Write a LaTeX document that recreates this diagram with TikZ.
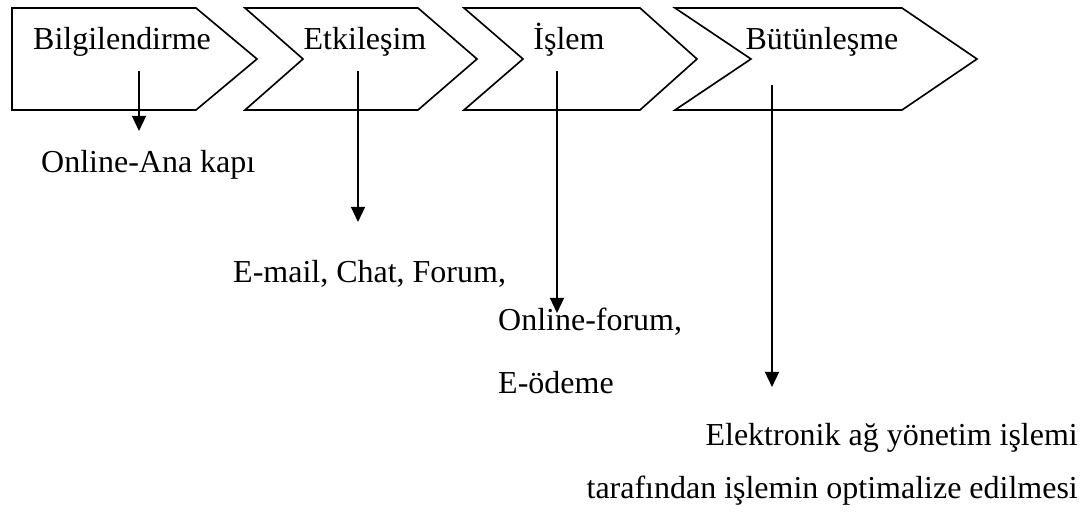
\documentclass[tikz,border=0pt]{standalone}
\usepackage{fontspec}
\setmainfont{Liberation Serif}
\usetikzlibrary{arrows.meta}
\tikzstyle{arrow} = [line width=1.6pt,-{Triangle[length=13pt,width=12pt]}]
\tikzstyle{stage} = [line width=1.4pt,line join=miter]
\tikzstyle{txt} = [inner sep=0pt,font=\fontsize{27.3pt}{32pt}\selectfont]

\begin{document}
\begin{tikzpicture}[x=0.03cm,y=-0.03cm]
\useasboundingbox (0,0) rectangle (1090,513);

% first stage has a flat left side
\draw[stage] (12,8) -- (196,8) -- (257,59) -- (196,110) -- (12,110) -- cycle;

% the other stages are chevrons
\foreach \l/\n/\b/\t in {245/303/418/477, 464/523/640/697, 675/751/902/977}
{
\draw[stage] (\l,8) -- (\b,8) -- (\t,59) -- (\b,110) -- (\l,110) -- (\n,59) -- cycle;
}

% stage names
\node[txt,anchor=base] (bilgi) at (122,50) {Bilgilendirme};
\node[txt,anchor=base] (etki) at (365,50) {Etkileşim};
\node[txt,anchor=base] (islem) at (569,50) {İşlem};
\node[txt,anchor=base] (butun) at (822,50) {Bütünleşme};

% what each stage gives
\node[txt,anchor=base west] (anakapi) at (41,173) {Online-Ana kapı};
\node[txt,anchor=base west] (email) at (233,283) {E-mail, Chat, Forum,};
\node[txt,anchor=base west] (oforum) at (498,330) {Online-forum,};
\node[txt,anchor=base west] (eodeme) at (498,393) {E-ödeme};
\node[txt,anchor=base east] (agyon) at (1078,445) {Elektronik ağ yönetim işlemi};
\node[txt,anchor=base east] (optim) at (1078,498) {tarafından işlemin optimalize edilmesi};

% arrow ends
\coordinate (bilgi-s) at (139,71);
\coordinate (bilgi-e) at (139,131);
\coordinate (etki-s) at (358,71);
\coordinate (etki-e) at (358,222);
\coordinate (islem-s) at (557,71);
\coordinate (islem-e) at (557,313);
\coordinate (butun-s) at (772,85);
\coordinate (butun-e) at (772,387);

\foreach \s in {bilgi,etki,islem,butun}
{
\draw[arrow] (\s-s) -- (\s-e);
}

\end{tikzpicture}
\end{document}
